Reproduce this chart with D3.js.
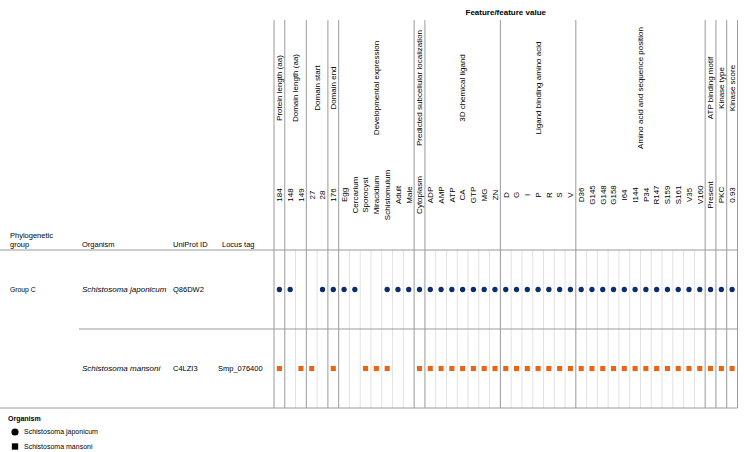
<!DOCTYPE html>
<html>
<head>
<meta charset="utf-8">
<script src="https://cdn.jsdelivr.net/npm/d3@7"></script>
<style>
  body { margin: 0; background: #fff; }
  text { font-family: "Liberation Sans", Arial, Helvetica, sans-serif; fill: #000; }
</style>
</head>
<body>
<svg id="chart" width="746" height="452"></svg>
<script>
// ---------------- DATA ----------------
const featureGroups = [
  "Protein length (aa)", "Domain length (aa)", "Domain start", "Domain end",
  "Developmental expression", "Predicted subcellular localization",
  "3D chemical ligand", "Ligand binding amino acid",
  "Amino acid and sequence position", "ATP binding motif", "Kinase type", "Kinase score"
];
const featureValues = [
  ["184"],
  ["148", "149"],
  ["27", "28"],
  ["176"],
  ["Egg", "Cercarium", "Sporocyst", "Miracidium", "Schistomulum", "Adult", "Male"],
  ["Cytoplasm"],
  ["ADP", "AMP", "ATP", "CA", "GTP", "MG", "ZN"],
  ["D", "G", "I", "P", "R", "S", "V"],
  ["D36", "G145", "G148", "G158", "I64", "I144", "P34", "R147", "S159", "S161", "V35", "V160"],
  ["Present"],
  ["PKC"],
  ["0.93"]
];
const organisms = ["Schistosoma japonicum", "Schistosoma mansoni"];
const phyloGroups = ["Group C", ""];
const uniprotIds = ["Q86DW2", "C4LZI3"];
const locusTags = ["", "Smp_076400"];
const tableHeaders = ["Phylogenetic\ngroup", "Organism", "UniProt ID", "Locus tag"];
// presence (1) / absence (0) per feature value column, in column order
const japonicumPresence = [1, 1,0, 0,1, 1, 1,1,0,0,1,1,1, 1, 1,1,1,1,1,1,1, 1,1,1,1,1,1,1, 1,1,1,1,1,1,1,1,1,1,1,1, 1, 1, 1];
const mansoniPresence   = [1, 0,1, 1,0, 1, 0,0,1,1,1,0,0, 1, 1,1,1,1,1,1,1, 1,1,1,1,1,1,1, 1,1,1,1,1,1,1,1,1,1,1,1, 1, 1, 1];
const presence = [japonicumPresence, mansoniPresence];
const organismColors = ["#0b2d6b", "#ec6413"];

// ---------------- LAYOUT ----------------
const svg = d3.select("#chart");
const colLeft = 274, colRight = 737.5;
const yLineTop = 20, yHeader = 250, yBottom = 408;

const columns = [];
featureValues.forEach((vals, gi) => vals.forEach(v => columns.push({ key: gi + "|" + v, group: gi, value: v })));

const x = d3.scaleBand().domain(columns.map(c => c.key)).range([colLeft, colRight]).padding(0);
const y = d3.scaleBand().domain(organisms).range([yHeader, yBottom]).padding(0);

const darkGrey = "#9a9a9a", lightGrey = "#e2e2e2";

// light in-group column lines (data area only)
const lightLines = [];
columns.forEach((c, i) => {
  if (i > 0 && columns[i - 1].group === c.group) lightLines.push(x(c.key));
});
svg.append("g").selectAll("line").data(lightLines).join("line")
  .attr("x1", d => d).attr("x2", d => d)
  .attr("y1", yHeader).attr("y2", yBottom)
  .attr("stroke", lightGrey).attr("stroke-width", 1);

// group boundary lines (full height)
const groupBounds = [];
featureGroups.forEach((g, gi) => {
  const first = columns.find(c => c.group === gi);
  groupBounds.push(x(first.key));
});
groupBounds.push(colRight);
svg.append("g").selectAll("line").data(groupBounds).join("line")
  .attr("x1", d => d).attr("x2", d => d)
  .attr("y1", yLineTop).attr("y2", yBottom)
  .attr("stroke", darkGrey).attr("stroke-width", 1);

// horizontal lines
svg.append("line").attr("x1", 0).attr("x2", colRight).attr("y1", yHeader).attr("y2", yHeader)
  .attr("stroke", darkGrey);
svg.append("line").attr("x1", 79).attr("x2", colRight)
  .attr("y1", y(organisms[1])).attr("y2", y(organisms[1])).attr("stroke", darkGrey);
svg.append("line").attr("x1", 0).attr("x2", colRight).attr("y1", yBottom).attr("y2", yBottom)
  .attr("stroke", darkGrey);

// title
svg.append("text").attr("x", (colLeft + colRight) / 2).attr("y", 14.5)
  .attr("text-anchor", "middle").attr("font-size", 8).attr("font-weight", "bold")
  .text("Feature/feature value");

// group labels (rotated)
featureGroups.forEach((g, gi) => {
  const cols = columns.filter(c => c.group === gi);
  const gx0 = x(cols[0].key), gx1 = x(cols[cols.length - 1].key) + x.bandwidth();
  svg.append("text")
    .attr("transform", `translate(${(gx0 + gx1) / 2},88) rotate(-90)`)
    .attr("text-anchor", "middle").attr("dy", "0.35em").attr("font-size", 8)
    .text(g);
});

// value labels (rotated)
svg.append("g").selectAll("text").data(columns).join("text")
  .attr("transform", d => `translate(${x(d.key) + x.bandwidth() / 2},195) rotate(-90)`)
  .attr("text-anchor", "middle").attr("dy", "0.35em").attr("font-size", 8)
  .text(d => d.value);

// table headers
const headerX = [10, 82, 173, 222];
tableHeaders.forEach((h, i) => {
  const lines = h.split("\n");
  const t = svg.append("text").attr("x", headerX[i]).attr("font-size", 7.5);
  lines.forEach((ln, li) => {
    t.append("tspan").attr("x", headerX[i]).attr("y", 247 - (lines.length - 1 - li) * 9).text(ln);
  });
});

// table rows
organisms.forEach((org, ri) => {
  const cy = y(org) + y.bandwidth() / 2;
  svg.append("text").attr("x", 10).attr("y", cy).attr("dy", "0.35em").attr("font-size", 6.8).text(phyloGroups[ri]);
  svg.append("text").attr("x", 82).attr("y", cy).attr("dy", "0.35em").attr("font-size", 8)
    .attr("font-style", "italic").text(org);
  svg.append("text").attr("x", 173).attr("y", cy).attr("dy", "0.35em").attr("font-size", 7.5).text(uniprotIds[ri]);
  svg.append("text").attr("x", 218).attr("y", cy).attr("dy", "0.35em").attr("font-size", 7.5).text(locusTags[ri]);
});

// marks
const sym = [d3.symbolCircle, d3.symbolSquare];
const symSize = [22, 26];
organisms.forEach((org, ri) => {
  const pts = columns.filter((c, i) => presence[ri][i] === 1);
  svg.append("g").selectAll("path").data(pts).join("path")
    .attr("transform", d => `translate(${x(d.key) + x.bandwidth() / 2},${y(org) + y.bandwidth() / 2})`)
    .attr("d", d3.symbol().type(sym[ri]).size(symSize[ri]))
    .attr("fill", organismColors[ri]);
});

// legend
svg.append("text").attr("x", 8).attr("y", 421).attr("font-size", 7).attr("font-weight", "bold").text("Organism");
organisms.forEach((org, ri) => {
  const ly = 432 + ri * 14.5;
  svg.append("path").attr("transform", `translate(15,${ly})`)
    .attr("d", d3.symbol().type(sym[ri]).size(40)).attr("fill", "#000");
  svg.append("text").attr("x", 24).attr("y", ly).attr("dy", "0.35em").attr("font-size", 7).text(org);
});
</script>
</body>
</html>
